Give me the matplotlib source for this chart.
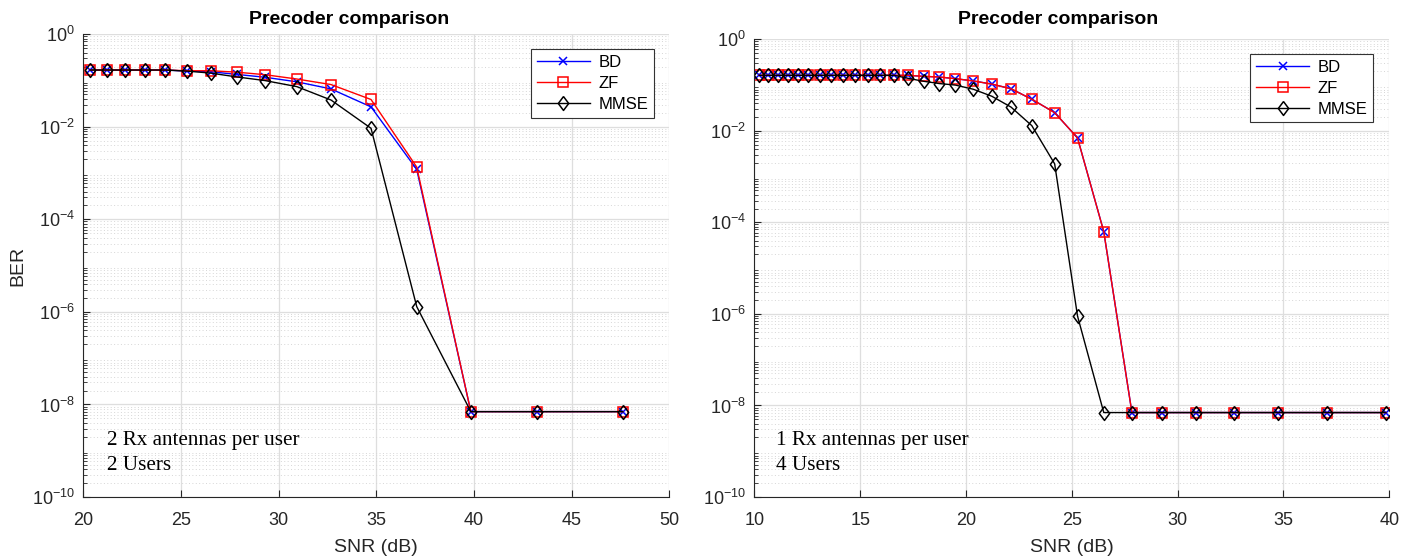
import numpy as np
import matplotlib
matplotlib.use("Agg")
import matplotlib.pyplot as plt
from matplotlib.ticker import LogLocator, NullFormatter, FixedLocator

plt.rcParams['font.family'] = ['Liberation Sans', 'DejaVu Sans']
plt.rcParams['mathtext.fontset'] = 'custom'
plt.rcParams['mathtext.rm'] = 'Liberation Sans'

# left panel: 2 Rx antennas per user, 2 users
snr_left = [20.34, 21.23, 22.15, 23.14, 24.2, 25.33, 26.52, 27.85, 29.3, 30.93,
            32.68, 34.73, 37.07, 39.84, 43.25, 47.62]
bd_left = [0.169, 0.169, 0.169, 0.169, 0.169, 0.16, 0.155, 0.136, 0.118, 0.094,
           0.066, 0.027, 1.2e-3, 7e-9, 7e-9, 7e-9]
zf_left = [0.169, 0.169, 0.169, 0.169, 0.169, 0.163, 0.163, 0.152, 0.134, 0.108,
           0.082, 0.039, 1.35e-3, 7e-9, 7e-9, 7e-9]
mmse_left = [0.169, 0.169, 0.169, 0.169, 0.169, 0.16, 0.145, 0.12, 0.1, 0.074,
             0.038, 0.0093, 1.3e-6, 7e-9, 7e-9, 7e-9]

# right panel: 1 Rx antenna per user, 4 users
snr_right = [10.23, 10.67, 11.14, 11.6, 12.07, 12.56, 13.1, 13.63, 14.19, 14.75,
             15.35, 15.95, 16.61, 17.28, 18.0, 18.74, 19.5, 20.35, 21.22, 22.13,
             23.11, 24.19, 25.27, 26.51, 27.84, 29.28, 30.88, 32.68, 34.72, 37.06,
             39.84]
bd_right = [0.163] * 14 + [0.155, 0.15, 0.138, 0.123, 0.105, 0.083, 0.049, 0.025,
                           7e-3, 6.3e-5] + [7e-9] * 7
zf_right = list(bd_right)
mmse_right = [0.163] * 13 + [0.14, 0.121, 0.108, 0.1, 0.081, 0.057, 0.033, 0.013,
                             1.9e-3, 9e-7] + [7e-9] * 8

W, H = 1413, 556
fig = plt.figure(figsize=(W / 100, H / 100), dpi=100)

# matlab style diamond, a bit taller than wide
diamond = [(0, 1), (0.75, 0), (0, -1), (-0.75, 0), (0, 1)]

panels = [
    ([83.3, 34.3, 669.3, 497], snr_left, bd_left, zf_left, mmse_left,
     (20, 50), ['2 Rx antennas per user', '2 Users'], True,
     (536.7, 49.3, 654, 120), 349),
    ([754.3, 39.3, 1389.3, 497], snr_right, bd_right, zf_right, mmse_right,
     (10, 40), ['1 Rx antennas per user', '4 Users'], False,
     (1246, 54, 1373.3, 124.3), 1058),
]

dark = '#262626'
for box, x, bd, zf, mm, xl, notes, ylab, leg, tx in panels:
    x0, y0, x1, y1 = box
    ax = fig.add_axes([x0 / W, 1 - y1 / H, (x1 - x0) / W, (y1 - y0) / H])
    ax.plot(x, bd, color='#0000ff', marker='x', ms=6, mew=1.1, lw=1.0, label='BD')
    ax.plot(x, zf, color='#ff0000', marker='s', ms=6.7, mfc='none', mew=1.1, lw=1.0,
            label='ZF')
    ax.plot(x, mm, color='black', marker=diamond, ms=10, mfc='none', mew=1.1, lw=1.0,
            label='MMSE')
    ax.set_yscale('log')
    ax.set_ylim(1e-10, 1)
    ax.set_xlim(*xl)
    ax.set_xticks(np.arange(xl[0], xl[1] + 1, 5))
    ax.yaxis.set_major_locator(FixedLocator([1e-10, 1e-8, 1e-6, 1e-4, 1e-2, 1]))
    ax.yaxis.set_minor_locator(LogLocator(base=10, subs=np.arange(2, 10), numticks=30))
    ax.yaxis.set_minor_formatter(NullFormatter())
    ax.grid(True, which='major', axis='both', color='#dedede', lw=0.9)
    ax.grid(True, which='minor', axis='y', color='#d6d6d6', lw=0.7, ls=(0, (1, 2.5)))
    ax.set_axisbelow(True)
    for s in ['top', 'right']:
        ax.spines[s].set_visible(False)
    for s in ['left', 'bottom']:
        ax.spines[s].set_color(dark)
    ax.tick_params(which='both', direction='in', colors=dark, labelsize=13,
                   top=False, right=False)
    ax.tick_params(which='major', length=5)
    ax.tick_params(which='minor', length=3)
    ax.tick_params(axis='x', pad=11)
    ax.tick_params(axis='y', pad=6)
    ax.set_xlabel('SNR (dB)', fontsize=14, color=dark, labelpad=7)
    if ylab:
        ax.set_ylabel('BER', fontsize=14, color=dark, labelpad=4)
    fig.text(tx / W, 1 - 19 / H, 'Precoder comparison', fontsize=14,
             fontweight='bold', ha='center', va='center', color='black')
    # annotation text
    nx = (107 - x0) / (x1 - x0) if ylab else (776 - x0) / (x1 - x0)
    ax.text(nx, 0.123, notes[0], transform=ax.transAxes, family='Liberation Serif',
            fontsize=15.2, va='center')
    ax.text(nx, 0.069, notes[1], transform=ax.transAxes, family='Liberation Serif',
            fontsize=15.2, va='center')
    lx0, ly0, lx1, ly1 = leg
    lg = ax.legend(loc='upper right', fontsize=12,
                   bbox_to_anchor=((lx1 - x0) / (x1 - x0), 1 - (ly0 - y0) / (y1 - y0)),
                   fancybox=False, framealpha=1, edgecolor='#333333',
                   handlelength=3.2, borderpad=0.35, labelspacing=0.35,
                   handletextpad=0.5, borderaxespad=0)
    lg.get_frame().set_linewidth(0.8)

fig.savefig('out.png', dpi=100)
